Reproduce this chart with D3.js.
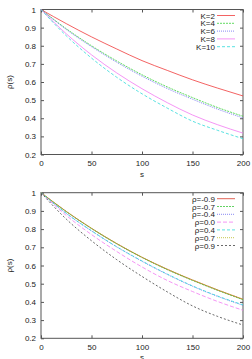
<!DOCTYPE html>
<html>
<head>
<meta charset="utf-8">
<script src="https://cdn.jsdelivr.net/npm/d3@7"></script>
<style>
  body { margin: 0; background: #fff; }
  text { font-family: "Liberation Sans", Arial, sans-serif; font-size: 8px; fill: #222; }
</style>
</head>
<body>
<div id="chart"></div>
<script>
'use strict';

const sValues = [0, 25, 50, 75, 100, 125, 150, 175, 200];

// top panel: different K
const kNames = ["K=2", "K=4", "K=6", "K=8", "K=10"];
const kSeries = [
    [1, 0.922, 0.849, 0.782, 0.718, 0.664, 0.612, 0.566, 0.523],
    [1, 0.894, 0.800, 0.716, 0.640, 0.573, 0.514, 0.459, 0.411],
    [1, 0.890, 0.795, 0.709, 0.632, 0.564, 0.505, 0.450, 0.402],
    [1, 0.866, 0.750, 0.650, 0.563, 0.486, 0.418, 0.364, 0.318],
    [1, 0.855, 0.732, 0.626, 0.535, 0.456, 0.384, 0.333, 0.287]
];

// bottom panel: different rho
const rNames = ["\u03c1=-0.9", "\u03c1=-0.7", "\u03c1=-0.4", "\u03c1=0.0", "\u03c1=0.4", "\u03c1=0.7", "\u03c1=0.9"];
const rSeries = [
    [1, 0.897, 0.804, 0.720, 0.645, 0.579, 0.520, 0.465, 0.414],
    [1, 0.896, 0.803, 0.719, 0.644, 0.577, 0.518, 0.463, 0.412],
    [1, 0.886, 0.790, 0.702, 0.623, 0.551, 0.486, 0.430, 0.381],
    [1, 0.875, 0.770, 0.677, 0.592, 0.518, 0.457, 0.402, 0.354],
    [1, 0.887, 0.791, 0.703, 0.625, 0.553, 0.488, 0.432, 0.384],
    [1, 0.897, 0.805, 0.721, 0.646, 0.580, 0.521, 0.466, 0.415],
    [1, 0.855, 0.736, 0.632, 0.540, 0.455, 0.378, 0.320, 0.273]
];

const xTicks = [0, 50, 100, 150, 200];
const yTicks = [0.2, 0.3, 0.4, 0.5, 0.6, 0.7, 0.8, 0.9, 1];

const kStyles = [
    { color: "#f03c3c", dash: null },
    { color: "#3cd23c", dash: "2,1" },
    { color: "#6a6af0", dash: "1,1" },
    { color: "#f27af2", dash: null },
    { color: "#30dada", dash: "3,2" }
];
const rStyles = [
    { color: "#d83c2c", dash: null },
    { color: "#3cc83c", dash: "2,1" },
    { color: "#6a6af0", dash: "1,1" },
    { color: "#f27af2", dash: "4,2" },
    { color: "#30dada", dash: "3,2" },
    { color: "#b8b820", dash: "1,1" },
    { color: "#444444", dash: "2,2" }
];

const W = 252, H = 359;

const svg = d3.select("#chart").append("svg")
    .attr("width", W)
    .attr("height", H);

const drawPanel = (top, bottom, names, series, styles) => {
    const left = 41, right = 243;

    const x = d3.scaleLinear().domain([0, 200]).range([left, right]);
    const y = d3.scaleLinear().domain([0.2, 1]).range([bottom, top]);

    const g = svg.append("g");

    // frame
    g.append("rect")
        .attr("x", left).attr("y", top)
        .attr("width", right - left).attr("height", bottom - top)
        .attr("fill", "none").attr("stroke", "#555").attr("stroke-width", 1);

    // ticks, inward and mirrored like gnuplot
    g.append("g")
        .attr("transform", "translate(0," + bottom + ")")
        .call(d3.axisBottom(x).tickValues(xTicks).tickSizeInner(-3).tickSizeOuter(0).tickPadding(6))
        .call(a => a.select(".domain").remove());
    g.append("g")
        .attr("transform", "translate(0," + top + ")")
        .call(d3.axisTop(x).tickValues(xTicks).tickSizeInner(-3).tickSizeOuter(0).tickFormat(""))
        .call(a => a.select(".domain").remove());
    g.append("g")
        .attr("transform", "translate(" + left + ",0)")
        .call(d3.axisLeft(y).tickValues(yTicks).tickSizeInner(-3).tickSizeOuter(0).tickPadding(5)
            .tickFormat(d => d === 1 ? "1" : d3.format(".1f")(d)))
        .call(a => a.select(".domain").remove());
    g.append("g")
        .attr("transform", "translate(" + right + ",0)")
        .call(d3.axisRight(y).tickValues(yTicks).tickSizeInner(-3).tickSizeOuter(0).tickFormat(""))
        .call(a => a.select(".domain").remove());

    g.selectAll(".tick line").attr("stroke", "#555");
    g.selectAll(".tick text").style("font-family", "'Liberation Sans', Arial, sans-serif")
        .style("font-size", "8px").attr("fill", "#222");

    // axis labels
    g.append("text")
        .attr("x", (left + right) / 2)
        .attr("y", bottom + 22)
        .attr("text-anchor", "middle")
        .text("s");
    g.append("text")
        .attr("transform", "translate(12," + ((top + bottom) / 2) + ") rotate(-90)")
        .attr("text-anchor", "middle")
        .text("\u03c1(s)");

    const line = d3.line()
        .x((d, i) => x(sValues[i]))
        .y(d => y(d))
        .curve(d3.curveMonotoneX);

    series.forEach((vals, i) => {
        g.append("path")
            .datum(vals)
            .attr("fill", "none")
            .attr("stroke", styles[i].color)
            .attr("stroke-width", 1)
            .attr("stroke-opacity", 0.8)
            .attr("stroke-dasharray", styles[i].dash)
            .attr("d", line);
    });

    // legend
    names.forEach((name, i) => {
        const ly = top + 6 + i * 7.8;
        g.append("text")
            .attr("x", 215)
            .attr("y", ly + 3)
            .attr("text-anchor", "end")
            .text(name);
        g.append("line")
            .attr("x1", 217).attr("x2", 235)
            .attr("y1", ly).attr("y2", ly)
            .attr("stroke", styles[i].color)
            .attr("stroke-width", 1)
            .attr("stroke-opacity", 0.8)
            .attr("stroke-dasharray", styles[i].dash);
    });
};

drawPanel(9.5, 154.5, kNames, kSeries, kStyles);
drawPanel(192.7, 338.3, rNames, rSeries, rStyles);
</script>
</body>
</html>
